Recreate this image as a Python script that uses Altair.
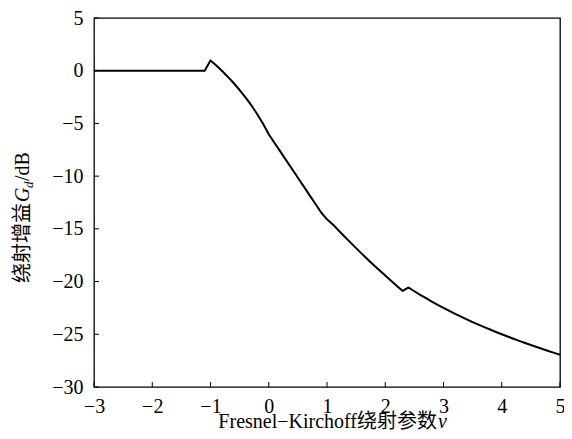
import altair as alt
import pandas as pd

# Fresnel-Kirchoff diffraction parameter v (x) and diffraction gain Gd in dB (y)
v = [-3.0, -1.1,
     -1.0, -0.9, -0.8, -0.7, -0.6, -0.5, -0.4, -0.3, -0.2, -0.1,
     0.0, 0.1, 0.2, 0.3, 0.4, 0.5, 0.6, 0.7, 0.8, 0.9,
     1.0, 1.1, 1.2, 1.3, 1.4, 1.5, 1.6, 1.7, 1.8, 1.9,
     2.0, 2.1, 2.2, 2.3, 2.4, 2.5, 2.6, 2.7, 2.8, 2.9,
     3.0, 3.1, 3.2, 3.3, 3.4, 3.5, 3.6, 3.7, 3.8, 3.9,
     4.0, 4.1, 4.2, 4.3, 4.4, 4.5, 4.6, 4.7, 4.8, 4.9,
     5.0]
gain = [0.0, 0.0,
        0.98, 0.49, -0.03, -0.59, -1.19, -1.83, -2.52, -3.27, -4.10, -5.01,
        -6.02, -6.85, -7.67, -8.50, -9.32, -10.15, -10.97, -11.80, -12.62, -13.45,
        -14.10, -14.58, -15.16, -15.72, -16.28, -16.83, -17.37, -17.90, -18.42, -18.93,
        -19.43, -19.93, -20.41, -20.89, -20.56, -20.92, -21.26, -21.58, -21.90, -22.20,
        -22.50, -22.78, -23.06, -23.33, -23.59, -23.84, -24.08, -24.32, -24.55, -24.78,
        -25.00, -25.21, -25.42, -25.63, -25.83, -26.02, -26.21, -26.40, -26.58, -26.76,
        -26.94]

x_ticks = [-3, -2, -1, 0, 1, 2, 3, 4, 5]
y_ticks = [-30, -25, -20, -15, -10, -5, 0, 5]

x_title_main = ["Fresnel\u2212Kirchoff绕射参数"]
x_title_var = ["v"]
y_title_cn = ["绕射增益"]
y_title_sym = ["G"]
y_title_sub = ["d"]
y_title_unit = ["/dB"]

W, H = 466, 369
FS = 20
SERIF = "Liberation Serif, Times New Roman, Noto Sans CJK SC"
CJK = "Noto Sans CJK SC"

xs = alt.Scale(domain=[-3, 5], nice=False, zero=False)
ys = alt.Scale(domain=[-30, 5], nice=False, zero=False)

ax_x = alt.Axis(values=x_ticks, title=None, ticks=False, domain=False, grid=False,
                labelPadding=9, labelFontSize=FS, labelFont=SERIF, labelColor="black",
                format="d", labelFlush=False)
ax_y = alt.Axis(values=y_ticks, title=None, ticks=False, domain=False, grid=False,
                labelPadding=11, labelFontSize=FS, labelFont=SERIF, labelColor="black",
                format="d", labelFlush=False)

df = pd.DataFrame({"v": v, "gain": gain})

line = alt.Chart(df).mark_line(color="black", strokeWidth=2, strokeJoin="round").encode(
    x=alt.X("v:Q", scale=xs, axis=ax_x),
    y=alt.Y("gain:Q", scale=ys, axis=ax_y),
)

xtick = alt.Chart(pd.DataFrame({"v": x_ticks})).mark_rule(color="black", strokeWidth=1).encode(
    x=alt.X("v:Q", scale=xs, axis=ax_x),
    y=alt.value(H),
    y2=alt.value(H - 5),
)
ytick = alt.Chart(pd.DataFrame({"gain": y_ticks})).mark_rule(color="black", strokeWidth=1).encode(
    y=alt.Y("gain:Q", scale=ys, axis=ax_y),
    x=alt.value(0),
    x2=alt.value(5),
)

def txt(values, **kw):
    return alt.Chart(pd.DataFrame({"t": values})).mark_text(color="black", **kw)

XT_Y = H + 41
XT_SPLIT = 343
xt1 = txt(x_title_main, align="right", baseline="alphabetic", font=SERIF, fontSize=FS).encode(
    text="t:N", x=alt.value(XT_SPLIT), y=alt.value(XT_Y))
xt2 = txt(x_title_var, align="left", baseline="alphabetic", font=SERIF, fontSize=FS,
          fontStyle="italic").encode(text="t:N", x=alt.value(XT_SPLIT + 1), y=alt.value(XT_Y))

YX, YY = -65, 265
yt1 = txt(y_title_cn, align="left", baseline="alphabetic", font=CJK, fontSize=FS, angle=270).encode(
    text="t:N", x=alt.value(YX), y=alt.value(YY))
yt2 = txt(y_title_sym, align="left", baseline="alphabetic", font=SERIF, fontSize=FS, angle=270,
          fontStyle="italic", dx=81).encode(text="t:N", x=alt.value(YX), y=alt.value(YY))
yt3 = txt(y_title_sub, align="left", baseline="alphabetic", font=SERIF, fontSize=13, angle=270,
          fontStyle="italic", dx=95, dy=4).encode(text="t:N", x=alt.value(YX), y=alt.value(YY))
yt4 = txt(y_title_unit, align="left", baseline="alphabetic", font=SERIF, fontSize=FS, angle=270,
          dx=102).encode(text="t:N", x=alt.value(YX), y=alt.value(YY))

chart = alt.layer(line, xtick, ytick, xt1, xt2, yt1, yt2, yt3, yt4).properties(
    width=W, height=H,
    autosize=alt.AutoSizeParams(type="none"),
    padding={"left": 86, "top": 10, "right": 4, "bottom": 44},
    background="white",
).configure_view(stroke="black", strokeWidth=1.3)

chart.save("out.html", embed_options={"renderer": "svg", "actions": False})
